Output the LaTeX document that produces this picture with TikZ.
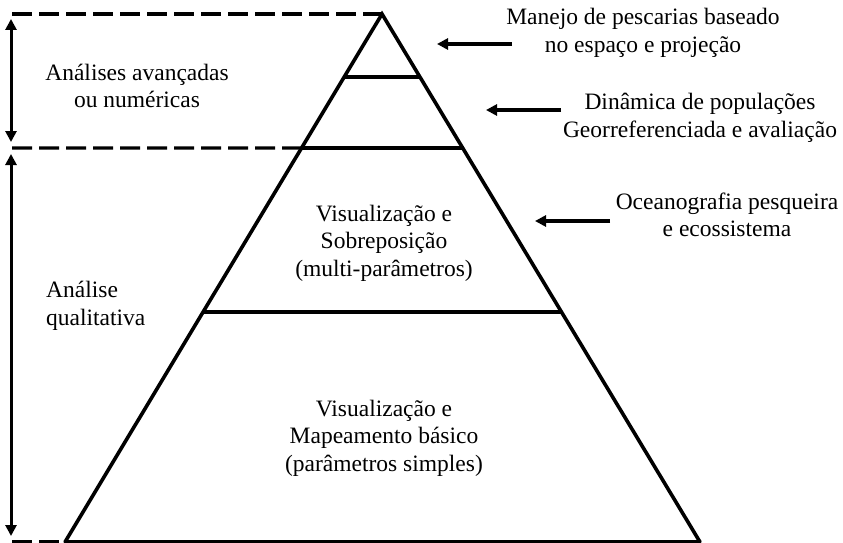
\documentclass[tikz,border=0pt]{standalone}
\usepackage{fontspec}
\setmainfont{Liberation Serif}
\usetikzlibrary{arrows.meta,calc}
\begin{document}
\begin{tikzpicture}[x=1pt,y=-1pt,
  edge/.style={line width=3.6pt,line cap=round},
  dashline/.style={line width=3.4pt,dash pattern=on 20pt off 7pt},
  ptr/.style={line width=3.4pt,-{Triangle[length=11pt,width=11pt]}},
  dptr/.style={line width=3pt,{Triangle[length=11pt,width=11pt]}-{Triangle[length=11pt,width=11pt]}},
  lbl/.style={font=\fontsize{23.5}{27.5}\selectfont,align=center,inner sep=0pt}]
\useasboundingbox (0,0) rectangle (843,543);
\coordinate (apex) at (382,14);
\coordinate (bl) at (65,542);
\coordinate (br) at (700,542);
% pyramid
\draw[edge,line join=miter] (bl) -- (apex) -- (br);
\draw[line width=3.6pt] (bl) -- (br);
\coordinate (l1) at ($(apex)!0.1193!(bl)$);
\coordinate (r1) at ($(apex)!0.1193!(br)$);
\coordinate (l2) at ($(apex)!0.2538!(bl)$);
\coordinate (r2) at ($(apex)!0.2538!(br)$);
\coordinate (l3) at ($(apex)!0.5644!(bl)$);
\coordinate (r3) at ($(apex)!0.5644!(br)$);
\draw[edge,line cap=butt] (l1) -- (r1);
\draw[edge,line cap=butt] (l2) -- (r2);
\draw[edge,line cap=butt] (l3) -- (r3);
% dashed guides
\coordinate (d0) at (12,14);
\coordinate (d1) at (12,148);
\coordinate (d2) at (12,542);
\draw[dashline] (d0) -- (apex);
\draw[dashline] (d1) -- (l2);
\draw[dashline] (d2) -- (bl);
% vertical arrows
\coordinate (a1t) at (11,19);
\coordinate (a1b) at (11,142);
\coordinate (a2t) at (11,154);
\coordinate (a2b) at (11,536);
\draw[dptr] (a1t) -- (a1b);
\draw[dptr] (a2t) -- (a2b);
% left labels
\node[lbl] (adv) at (137,86) {Análises avançadas\\ou numéricas};
\node[lbl,align=left,anchor=west] (qual) at (46,306) {Análise\\qualitativa};
% centre labels
\node[lbl] (vis1) at (384,243) {Visualização e\\Sobreposição\\(multi-parâmetros)};
\node[lbl] (vis2) at (384,438) {Visualização e\\Mapeamento básico\\(parâmetros simples)};
% right labels
\node[lbl] (t1) at (643,33) {Manejo de pescarias baseado\\no espaço e projeção};
\node[lbl] (t2) at (700,118) {Dinâmica de populações\\Georreferenciada e avaliação};
\node[lbl] (t3) at (727,215) {Oceanografia pesqueira\\e ecossistema};
% right arrows
\coordinate (p1s) at (512,44);
\coordinate (p1e) at (437,44);
\coordinate (p2s) at (561,110);
\coordinate (p2e) at (486,110);
\coordinate (p3s) at (610,221);
\coordinate (p3e) at (535,221);
\draw[ptr] (p1s) -- (p1e);
\draw[ptr] (p2s) -- (p2e);
\draw[ptr] (p3s) -- (p3e);
\end{tikzpicture}
\end{document}
